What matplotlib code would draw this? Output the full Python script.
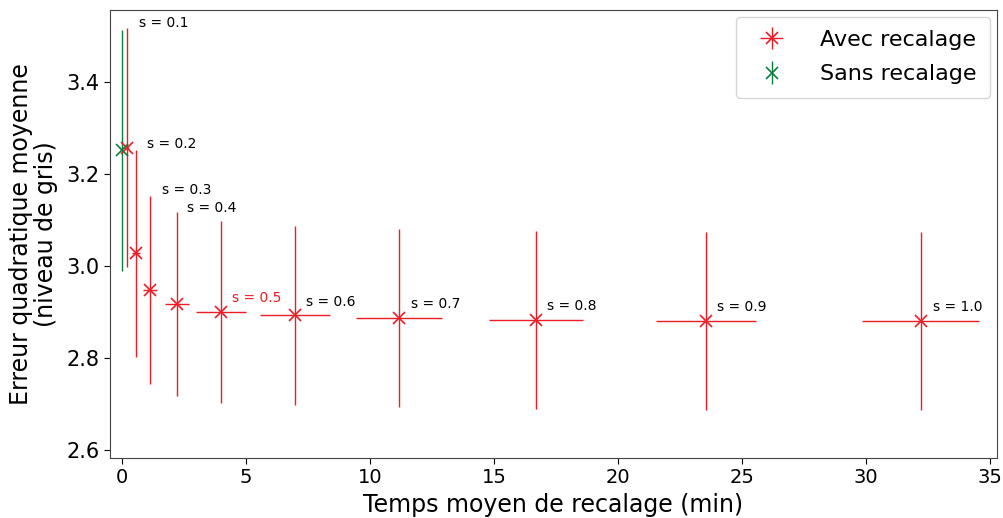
import matplotlib
matplotlib.use("Agg")
import matplotlib.pyplot as plt

# =========================
# Donnees
# =========================
s_labels = ["s = 0.1", "s = 0.2", "s = 0.3", "s = 0.4", "s = 0.5",
            "s = 0.6", "s = 0.7", "s = 0.8", "s = 0.9", "s = 1.0"]
temps = [0.2, 0.56, 1.13, 2.22, 3.99, 6.98, 11.17, 16.7, 23.55, 32.2]
temps_err = [0.1, 0.15, 0.3, 0.5, 1.0, 1.4, 1.75, 1.9, 2.0, 2.35]
erreur = [3.257, 3.028, 2.948, 2.917, 2.900, 2.893, 2.887, 2.883, 2.880, 2.880]
erreur_err = [0.26, 0.225, 0.205, 0.20, 0.198, 0.195, 0.193, 0.193, 0.193, 0.193]

sans_temps = [0.0]
sans_erreur = [3.252]
sans_erreur_err = [0.262]

# decalage des etiquettes (pixels) par rapport au point
label_dx = [12, 11, 12, 10, 11, 11, 12, 11, 11, 12]
label_dy = [125, 109, 100, 96, 14, 13, 14, 14, 14, 14]
label_colors = ["black"] * 4 + ["#ee1c25"] + ["black"] * 5

RED = "#ee1c25"
GREEN = "#0a7f3f"

# =========================
# Figure
# =========================
fig = plt.figure(figsize=(10.04, 5.18), dpi=100)
ax = fig.add_axes([0.1096, 0.116, 0.8834, 0.865])

ax.errorbar(temps, erreur, xerr=temps_err, yerr=erreur_err, fmt="x",
            color=RED, ms=9, mew=1.2, elinewidth=1.0, label="Avec recalage")
ax.errorbar(sans_temps, sans_erreur, yerr=sans_erreur_err, fmt="x",
            color=GREEN, ms=9, mew=1.2, elinewidth=1.0, label="Sans recalage")

for x, y, txt, dx, dy, c in zip(temps, erreur, s_labels, label_dx, label_dy, label_colors):
    ax.annotate(txt, (x, y), xytext=(dx, dy), textcoords="offset pixels",
                ha="left", va="center", fontsize=10, color=c)

ax.set_xlim(-0.48, 35.28)
ax.set_ylim(2.583, 3.557)
ax.set_yticks([2.6, 2.8, 3.0, 3.2, 3.4])
ax.set_xticks([0, 5, 10, 15, 20, 25, 30, 35])
ax.tick_params(axis="y", labelsize=15, direction="out", length=4)
ax.tick_params(axis="x", labelsize=14, direction="out", length=4)

ax.set_xlabel("Temps moyen de recalage (min)", fontsize=17, labelpad=4)
ax.set_ylabel("Erreur quadratique moyenne\n(niveau de gris)", fontsize=17,
              labelpad=6, linespacing=1.05)

for sp in ax.spines.values():
    sp.set_color("#444444")

ax.legend(loc="upper right", fontsize=16, frameon=True, borderpad=0.6,
          handletextpad=1.2, labelspacing=0.65, borderaxespad=0.3)

fig.savefig("out.png", dpi=100)
